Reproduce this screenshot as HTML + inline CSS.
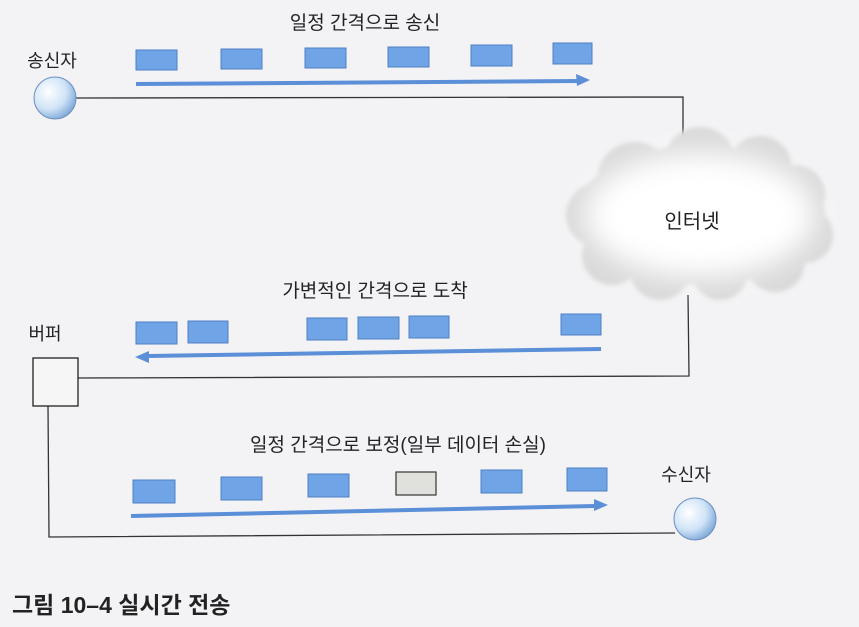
<!DOCTYPE html>
<html><head><meta charset="utf-8"><style>
html,body{margin:0;padding:0;background:#f3f3f5;}
svg{display:block;}
text{font-family:"Liberation Sans","Noto Sans CJK KR","NanumGothic",sans-serif;fill:#222;}
</style></head><body>
<svg width="859" height="627" viewBox="0 0 859 627" xmlns="http://www.w3.org/2000/svg">
<defs>
<radialGradient id="ball" cx="35%" cy="35%" r="70%">
<stop offset="0" stop-color="#ffffff"/><stop offset="0.6" stop-color="#cfe3f7"/><stop offset="1" stop-color="#7fa9d8"/>
</radialGradient>
<filter id="blur" x="-20%" y="-20%" width="140%" height="140%"><feGaussianBlur stdDeviation="2"/></filter>
<filter id="blur2" x="-30%" y="-30%" width="160%" height="160%"><feGaussianBlur stdDeviation="14"/></filter>
</defs>
<rect width="859" height="627" fill="#f3f3f5"/>

<!-- connectors -->
<polyline points="76,98 683,97 683,142" fill="none" stroke="#333" stroke-width="1.3"/>
<polyline points="688,295 689,376 78,378" fill="none" stroke="#333" stroke-width="1.3"/>
<polyline points="48,406 49,537 675,533" fill="none" stroke="#333" stroke-width="1.3"/>

<!-- cloud -->
<g filter="url(#blur)" fill="#d9d9d9">
<ellipse cx="700" cy="215" rx="125" ry="70"/>
<circle cx="635" cy="180" r="38"/><circle cx="700" cy="163" r="36"/><circle cx="760" cy="168" r="32"/><circle cx="795" cy="195" r="30"/>
<circle cx="598" cy="215" r="32"/><circle cx="805" cy="235" r="28"/>
<circle cx="612" cy="255" r="30"/><circle cx="660" cy="270" r="30"/><circle cx="720" cy="272" r="28"/><circle cx="775" cy="262" r="30"/>
</g>
<g filter="url(#blur2)" fill="#ffffff">
<ellipse cx="700" cy="215" rx="115" ry="62"/>
</g>
<text x="692" y="228" font-size="20" text-anchor="middle">인터넷</text>

<!-- sender -->
<text x="52" y="67" font-size="18" text-anchor="middle">송신자</text>
<circle cx="55" cy="98" r="21" fill="url(#ball)" stroke="#6a8fc0" stroke-width="1"/>
<text x="365" y="29" font-size="19" text-anchor="middle">일정 간격으로 송신</text>
<g fill="#6fa4e6" stroke="#4d7fc2" stroke-width="1">
<rect x="136" y="50" width="41" height="20"/><rect x="221" y="49" width="41" height="20"/>
<rect x="305" y="48" width="41" height="20"/><rect x="388" y="47" width="41" height="20"/>
<rect x="471" y="45" width="41" height="21"/><rect x="553" y="43" width="39" height="21"/>
</g>
<line x1="136" y1="84" x2="578" y2="81" stroke="#5b8fd8" stroke-width="4"/>
<polygon points="590,80 576,74 577,86" fill="#5b8fd8"/>

<!-- middle -->
<text x="375" y="297" font-size="19" text-anchor="middle">가변적인 간격으로 도착</text>
<text x="45" y="340" font-size="18" text-anchor="middle">버퍼</text>
<rect x="33" y="358" width="45" height="48" fill="#f6f6f6" stroke="#222" stroke-width="1.3"/>
<g fill="#6fa4e6" stroke="#4d7fc2" stroke-width="1">
<rect x="136" y="322" width="41" height="22"/><rect x="188" y="321" width="40" height="22"/>
<rect x="307" y="318" width="40" height="22"/><rect x="358" y="317" width="41" height="22"/>
<rect x="409" y="316" width="40" height="22"/><rect x="561" y="314" width="40" height="21"/>
</g>
<line x1="148" y1="356" x2="601" y2="349" stroke="#5b8fd8" stroke-width="4"/>
<polygon points="135,357 149,351 149,363" fill="#5b8fd8"/>

<!-- bottom -->
<text x="398" y="451" font-size="19" text-anchor="middle">일정 간격으로 보정(일부 데이터 손실)</text>
<g fill="#6fa4e6" stroke="#4d7fc2" stroke-width="1">
<rect x="133" y="480" width="42" height="23"/><rect x="221" y="477" width="41" height="23"/>
<rect x="308" y="474" width="41" height="23"/>
<rect x="481" y="470" width="41" height="23"/><rect x="567" y="468" width="40" height="23"/>
</g>
<rect x="396" y="472" width="40" height="23" fill="#e0e0dc" stroke="#333" stroke-width="1.2"/>
<line x1="131" y1="516" x2="595" y2="506" stroke="#5b8fd8" stroke-width="4"/>
<polygon points="608,505 594,499 594,511" fill="#5b8fd8"/>
<text x="686" y="481" font-size="18" text-anchor="middle">수신자</text>
<circle cx="695" cy="519" r="21" fill="url(#ball)" stroke="#6a8fc0" stroke-width="1"/>

<!-- caption -->
<text x="12" y="613" font-size="23" font-weight="bold" fill="#222">그림 10–4  실시간 전송</text>
</svg>
</body></html>
